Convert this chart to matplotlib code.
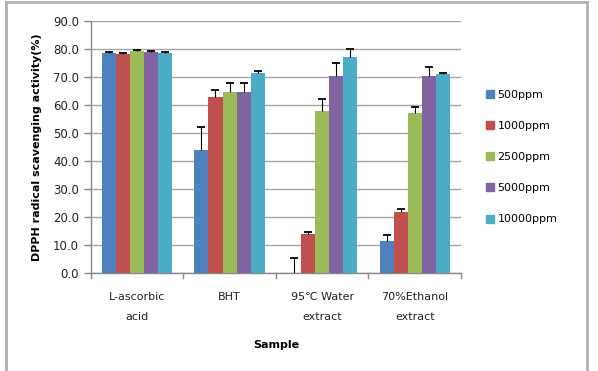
import matplotlib
matplotlib.use("Agg")
import matplotlib.pyplot as plt
import numpy as np
from matplotlib.lines import Line2D

categories = ["L-ascorbic\nacid", "BHT", "95\u2103 Water\nextract", "70%Ethanol\nextract"]
series = ["500ppm", "1000ppm", "2500ppm", "5000ppm", "10000ppm"]
values = {
    "500ppm":   [78.3, 44.0, 0.0, 11.4],
    "1000ppm":  [78.2, 62.9, 13.7, 21.6],
    "2500ppm":  [79.2, 64.4, 57.8, 56.9],
    "5000ppm":  [78.8, 64.4, 70.1, 70.2],
    "10000ppm": [78.3, 71.4, 76.9, 71.0],
}
errors = {
    "500ppm":   [0.4, 8.2, 5.4, 2.0],
    "1000ppm":  [0.3, 2.3, 0.9, 1.0],
    "2500ppm":  [0.4, 3.2, 4.1, 2.2],
    "5000ppm":  [0.4, 3.2, 4.7, 3.4],
    "10000ppm": [0.4, 0.6, 3.1, 0.4],
}
colors = ["#4F81BD", "#C0504D", "#9BBB59", "#8064A2", "#4BACC6"]
yticks = [0, 10, 20, 30, 40, 50, 60, 70, 80, 90]

W, H = 598, 371
fig = plt.figure(figsize=(W/100, H/100), dpi=100)
ax = fig.add_axes([90.7/W, 1-272.7/H, (461-90.7)/W, (272.7-20.7)/H])

n = len(series)
bw = 0.76 / n
x = np.arange(len(categories))
for i, s in enumerate(series):
    pos = x - 0.38 + bw*(i+0.5)
    ax.bar(pos, values[s], bw, color=colors[i], label=s, zorder=3)
    eb = ax.errorbar(pos, values[s], yerr=[np.zeros(len(categories)), errors[s]],
                     fmt='none', ecolor='black', elinewidth=0.8, capsize=3,
                     capthick=1.3, zorder=4)
    caps = eb[1]
    if len(caps) >= 2:
        caps[0].set_visible(False)

ax.set_xlim(-0.5, len(categories)-0.5)
ax.set_ylim(0, 90)
ax.set_yticks(yticks)
ax.set_yticklabels([f"{v:.1f}" for v in yticks], fontsize=8.5, color='#222222')
ax.yaxis.grid(True, color='#a6a6a6', linewidth=1, zorder=0)
ax.set_axisbelow(True)
ax.set_xticks(x)
ax.set_xticklabels(categories, fontsize=8, color='#222222', linespacing=2.2)
ax.tick_params(axis='x', length=0, pad=14)
ax.tick_params(axis='y', length=5, direction='out', color='#888888', width=1)
# category boundary ticks
for b in np.arange(-0.5, len(categories), 1.0):
    ax.plot([b, b], [0, -2], color='#888888', lw=1, clip_on=False, zorder=5)
for sp in ['top', 'right']:
    ax.spines[sp].set_visible(False)
ax.spines['left'].set_color('#888888')
ax.spines['bottom'].set_color('#888888')
ax.spines['left'].set_linewidth(1)
ax.spines['bottom'].set_linewidth(1)

ax.set_ylabel("DPPH radical scavenging activity(%)", fontsize=8, fontweight='bold', labelpad=8)
ax.set_xlabel("Sample", fontsize=8, fontweight='bold', labelpad=13)

handles = [Line2D([0], [0], marker='s', color='none', markerfacecolor=c,
                  markeredgecolor=c, markersize=6) for c in colors]
fig.legend(handles, series, loc='upper left', bbox_to_anchor=(473/W, 1-80/H),
           frameon=False, fontsize=8, labelspacing=1.9, handletextpad=0.1,
           handlelength=1.2)

# outer frame
fr = dict(color='#b0b0b0', lw=2, transform=fig.transFigure)
fig.add_artist(Line2D([6/W, 6/W], [0, 1-2/H], **fr))
fig.add_artist(Line2D([587/W, 587/W], [0, 1-2/H], **fr))
fig.add_artist(Line2D([6/W, 587/W], [1-2/H, 1-2/H], **fr))

fig.savefig("out.png", dpi=100)
